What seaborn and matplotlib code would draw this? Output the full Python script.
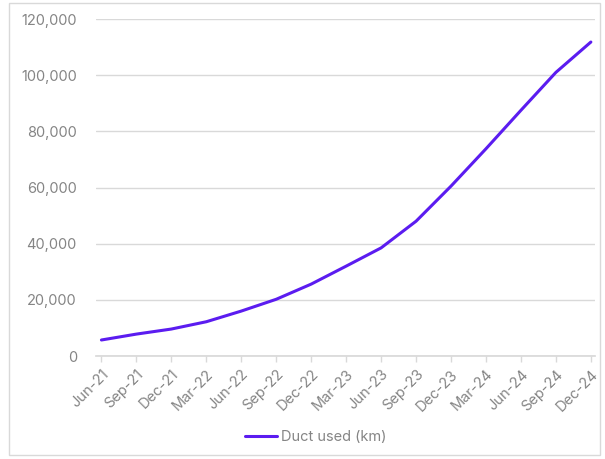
import numpy as np
import pandas as pd
import seaborn as sns
import matplotlib.pyplot as plt
from matplotlib.patches import Rectangle
from matplotlib.ticker import FuncFormatter

quarters = ["Jun-21", "Sep-21", "Dec-21", "Mar-22", "Jun-22", "Sep-22", "Dec-22",
            "Mar-23", "Jun-23", "Sep-23", "Dec-23", "Mar-24", "Jun-24", "Sep-24", "Dec-24"]
duct_km = [5700, 7800, 9600, 12200, 16000, 20200, 25600,
           32000, 38500, 48000, 60500, 73800, 87500, 101000, 111800]

df = pd.DataFrame({"idx": range(len(quarters)), "Duct used (km)": duct_km})

sns.set_theme(style="white")
plt.rcParams['font.family'] = ['Inter', 'DejaVu Sans']
grey = "#858585"
purple = "#5b1cf0"

fig = plt.figure(figsize=(6.05, 4.59), dpi=100)
ax = fig.add_axes([0.159, 0.2244, 0.824, 0.7342])
fig.patches.append(Rectangle((0.015, 0.008), 0.977, 0.985, transform=fig.transFigure,
                             fill=False, edgecolor="#d9d9d9", linewidth=1))

sns.lineplot(data=df, x="idx", y="Duct used (km)", ax=ax, color=purple, linewidth=2.2,
             label="Duct used (km)")

ax.set_ylim(0, 120000)
ax.set_xlim(-0.15, len(quarters) - 1 + 0.11)
ax.set_yticks(np.arange(0, 120001, 20000))
ax.yaxis.set_major_formatter(FuncFormatter(lambda v, p: f"{int(v):,}"))
ax.set_xticks(range(len(quarters)))
ax.set_xticklabels(quarters, rotation=45, ha="right", rotation_mode="anchor")
ax.tick_params(axis="x", length=4, width=1, color="#d9d9d9", bottom=True,
               labelcolor=grey, labelsize=10.5, pad=4)
ax.tick_params(axis="y", length=0, colors=grey, labelsize=10.5, pad=14)
ax.grid(axis="y", color="#d9d9d9", linewidth=1)
for s in ["top", "right", "left"]:
    ax.spines[s].set_visible(False)
ax.spines["bottom"].set_color("#d9d9d9")
ax.set_xlabel("")
ax.set_ylabel("")

ax.legend(loc="center", bbox_to_anchor=(0.44, -0.24), frameon=False,
          fontsize=10.5, labelcolor=grey, handlelength=2.2, handletextpad=0.3)

fig.savefig("out.png", dpi=100)
